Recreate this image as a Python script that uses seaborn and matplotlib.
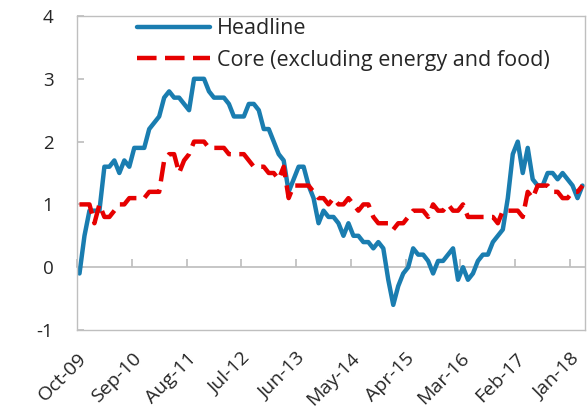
import numpy as np
import pandas as pd
import seaborn as sns
import matplotlib
matplotlib.use("Agg")
import matplotlib.pyplot as plt

# monthly, Oct-09 .. Mar-18 (y/y %)
headline = [
    -0.1, 0.5, 0.9,
    0.9, 0.9, 1.6, 1.6, 1.7, 1.5, 1.7, 1.6, 1.9, 1.9, 1.9, 2.2,
    2.3, 2.4, 2.7, 2.8, 2.7, 2.7, 2.6, 2.5, 3.0, 3.0, 3.0, 2.8,
    2.7, 2.7, 2.7, 2.6, 2.4, 2.4, 2.4, 2.6, 2.6, 2.5, 2.2, 2.2,
    2.0, 1.8, 1.7, 1.2, 1.4, 1.6, 1.6, 1.3, 1.1, 0.7, 0.9, 0.8,
    0.8, 0.7, 0.5, 0.7, 0.5, 0.5, 0.4, 0.4, 0.3, 0.4, 0.3, -0.2,
    -0.6, -0.3, -0.1, 0.0, 0.3, 0.2, 0.2, 0.1, -0.1, 0.1, 0.1, 0.2,
    0.3, -0.2, 0.0, -0.2, -0.1, 0.1, 0.2, 0.2, 0.4, 0.5, 0.6, 1.1,
    1.8, 2.0, 1.5, 1.9, 1.4, 1.3, 1.3, 1.5, 1.5, 1.4, 1.5, 1.4,
    1.3, 1.1, 1.3,
]
core = [
    1.0, 1.0, 1.0,
    0.7, 1.0, 0.8, 0.8, 0.9, 1.0, 1.0, 1.1, 1.1, 1.1, 1.1, 1.2,
    1.2, 1.2, 1.7, 1.8, 1.8, 1.5, 1.7, 1.8, 2.0, 2.0, 2.0, 1.9,
    1.9, 1.9, 1.9, 1.8, 1.8, 1.8, 1.8, 1.7, 1.6, 1.6, 1.6, 1.5,
    1.5, 1.4, 1.6, 1.1, 1.3, 1.3, 1.3, 1.3, 1.2, 1.1, 1.1, 1.0,
    1.1, 1.0, 1.0, 1.1, 1.0, 0.9, 1.0, 1.0, 0.8, 0.7, 0.7, 0.7,
    0.6, 0.7, 0.7, 0.8, 0.9, 0.9, 0.9, 0.8, 1.0, 0.9, 0.9, 1.0,
    0.9, 0.9, 1.0, 0.8, 0.8, 0.8, 0.8, 0.8, 0.8, 0.7, 0.9, 0.9,
    0.9, 0.9, 0.8, 1.2, 1.1, 1.3, 1.3, 1.3, 1.2, 1.2, 1.1, 1.1,
    1.2, 1.2, 1.3,
]
tick_labels = ["Oct-09", "Sep-10", "Aug-11", "Jul-12", "Jun-13",
               "May-14", "Apr-15", "Mar-16", "Feb-17", "Jan-18"]
tick_step = 11  # months between labels

sns.set_theme(style="white")
plt.rcParams["font.family"] = ["Open Sans", "DejaVu Sans"]
plt.rcParams["axes.unicode_minus"] = False

grey = "#bfbfbf"
text_c = "#262626"

fig = plt.figure(figsize=(5.87, 4.09), dpi=100)
ax = fig.add_axes([77 / 587, 1 - 330 / 409, 508 / 587, 314 / 409])

months = np.arange(len(headline))
sns.lineplot(x=months, y=headline, ax=ax, color="#1a7db0", lw=3.2,
             label="Headline")
sns.lineplot(x=months, y=core, ax=ax, color="#e60000", lw=3.2,
             linestyle=(0, (4.4, 1.9)), label="Core (excluding energy and food)")

ax.set_xlim(-0.5, len(headline) - 0.5)
ax.set_ylim(-1, 4)
yticks = [-1, 0, 1, 2, 3, 4]
ax.set_yticks(yticks)
ax.set_yticklabels([str(v) for v in yticks])
ax.tick_params(axis="y", left=True, direction="out", length=0, pad=17,
               labelsize=13.5, labelcolor=text_c)

# small inward y ticks on the frame
yin = ax.secondary_yaxis(0)
yin.set_yticks(yticks)
yin.tick_params(axis="y", direction="in", length=5, color=grey,
                labelleft=False, labelright=False)
yin.spines["left"].set_visible(False)

ticks = np.arange(len(tick_labels)) * tick_step - 0.5
ax.set_xticks(ticks)
ax.set_xticklabels(tick_labels, rotation=45, ha="right", rotation_mode="anchor")
ax.tick_params(axis="x", length=0, pad=14, labelsize=14, labelcolor=text_c)

# zero line with upward ticks
zero = ax.secondary_xaxis(0.2)
zero.set_xticks(ticks)
zero.tick_params(axis="x", direction="in", length=6, color=grey,
                 labelbottom=False, labeltop=False)
zero.spines["bottom"].set_color(grey)

for s in ax.spines.values():
    s.set_color(grey)
    s.set_linewidth(1)

ax.set_xlabel("")
ax.legend(loc="upper left", bbox_to_anchor=(0.114, 1.0), frameon=False,
          fontsize=15.5, handlelength=3.4, handletextpad=0.33,
          labelspacing=0.5, borderpad=0.1, borderaxespad=0, labelcolor=text_c)

fig.savefig("out.png", dpi=100)
